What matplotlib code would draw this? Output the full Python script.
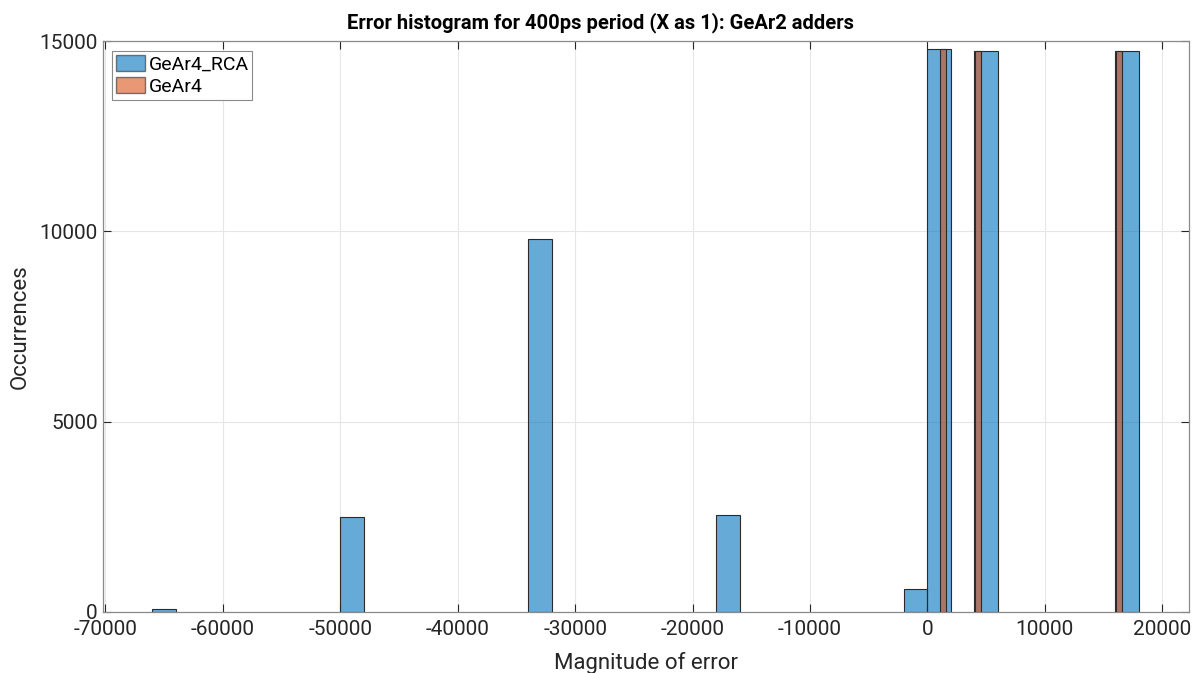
import matplotlib
matplotlib.use("Agg")
import matplotlib.pyplot as plt
from matplotlib.patches import Patch

plt.rcParams['font.family'] = ['Roboto', 'DejaVu Sans']
plt.rcParams['axes.unicode_minus'] = False

# histogram bins (left edge, width) and counts
rca_left = [-66000, -50000, -34000, -18000, -2000, 0, 4000, 16000]
rca_width = 2000
rca_counts = [80, 2480, 9800, 2550, 600, 14780, 14750, 14750]

gear4_left = [1040, 4050, 16040]
gear4_width = 530
gear4_counts = [14780, 14750, 14750]

blue = (0.0, 0.447, 0.741)
orange = (0.850, 0.325, 0.098)
axcol = '#262626'
edge = '#2b2b2b'

fig = plt.figure(figsize=(12.01, 6.73), dpi=100)
ax = fig.add_axes([0.0855, 0.091, 0.9045, 0.848])

ax.bar(rca_left, rca_counts, width=rca_width, align='edge', color=blue, alpha=0.6,
       edgecolor='none', zorder=2)
ax.bar(rca_left, rca_counts, width=rca_width, align='edge', fill=False,
       edgecolor=edge, linewidth=0.8, zorder=2)
ax.bar(gear4_left, gear4_counts, width=gear4_width, align='edge', color=orange, alpha=0.6,
       edgecolor='none', zorder=3)
ax.bar(gear4_left, gear4_counts, width=gear4_width, align='edge', fill=False,
       edgecolor=edge, linewidth=0.8, zorder=3)

ax.set_xlim(-70230, 22270)
ax.set_ylim(0, 15000)
ax.set_xticks(range(-70000, 20001, 10000))
ax.set_yticks([0, 5000, 10000, 15000])

ax.grid(True, color='#e6e6e6', linewidth=0.8, zorder=0)
ax.set_axisbelow(True)
ax.tick_params(direction='in', top=True, right=True, length=6, width=0.8,
               colors=axcol, labelsize=15, labelcolor=axcol)
ax.tick_params(axis='x', pad=6)
for s in ax.spines.values():
    s.set_color('#8a8a8a')
    s.set_linewidth(0.9)

fig.text(0.5, 0.958, 'Error histogram for 400ps period (X as 1): GeAr2 adders',
         fontsize=14.5, fontweight='bold', ha='center', va='baseline')
ax.set_xlabel('Magnitude of error', fontsize=16, color=axcol, labelpad=9)
ax.set_ylabel('Occurrences', fontsize=16, color=axcol, labelpad=6)

# legend patches carry both fill and edge
handles = [Patch(facecolor=blue, alpha=0.6, edgecolor=edge, label='GeAr4_RCA'),
           Patch(facecolor=orange, alpha=0.6, edgecolor=edge, label='GeAr4')]
leg = ax.legend(handles=handles, loc='upper left', fontsize=14, fancybox=False,
                framealpha=1, edgecolor='#8a8a8a', borderaxespad=0.5,
                handlelength=1.5, handleheight=0.9, handletextpad=0.15,
                labelspacing=0.2, borderpad=0.2)
leg.get_frame().set_linewidth(0.8)

fig.savefig('out.png', dpi=100)
